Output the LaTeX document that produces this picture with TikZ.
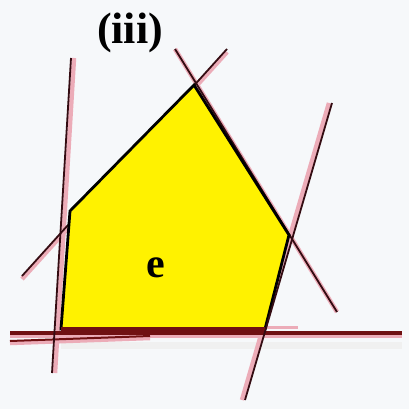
\documentclass[tikz,border=0pt]{standalone}
\usepackage{fontspec}
\setmainfont{Liberation Serif}
\usetikzlibrary{calc}
\definecolor{cutdark}{RGB}{52,12,18}
\definecolor{cutpink}{RGB}{236,172,184}
\definecolor{floorred}{RGB}{112,16,18}
\definecolor{paper}{RGB}{246,248,250}
\tikzset{
  cutshade/.style ={draw=cutpink, line width=4.5pt},
  cutline/.style  ={draw=cutdark, line width=1.8pt},
  floorline/.style={draw=floorred, line width=3.8pt},
  faceedge/.style ={draw=black, line width=2.8pt, line join=miter, fill=yellow},
  lbl/.style      ={font=\fontsize{42}{42}\selectfont\bfseries, inner sep=0pt},
}

\begin{document}
\begin{tikzpicture}[x=1pt,y=-1pt]
  \fill[paper] (0,0) rectangle (409,409);
  \useasboundingbox (0,0) rectangle (409,409);
  % corners of the face
  \coordinate (vt)  at (194,85);
  \coordinate (vr)  at (289,235);
  \coordinate (vbr) at (265,329);
  \coordinate (vbl) at (61,329);
  \coordinate (vl)  at (70,211);
  % ends of the cutting lines
  \coordinate (l1a) at (71,58);   \coordinate (l1b) at (52,373);
  \coordinate (l2a) at (22,276);  \coordinate (l2b) at (227,49);
  \coordinate (l3a) at (175,49);  \coordinate (l3b) at (337,312);
  \coordinate (l4a) at (332,103); \coordinate (l4b) at (245,400);
  \coordinate (l5a) at (10,333);  \coordinate (l5b) at (402,333);
  \coordinate (l6a) at (10,341);  \coordinate (l6b) at (150,336);
  % shadows
  \draw[gray!12, line width=7pt] ($(vbl)+(0,16)$) -- ($(l5b)+(0,12)$);
  \draw[cutshade] ([xshift=3pt]l1a) -- ([xshift=3pt]l1b);
  \draw[cutshade] ([yshift=-3pt]l2a) -- ([yshift=-3pt]l2b);
  \draw[cutshade] (l3a) -- (l3b);
  \draw[cutshade] ([xshift=-3pt]l4a) -- ([xshift=-3pt]l4b);
  \draw[cutshade] ([yshift=-3pt]l5a) -- ([yshift=-3pt]l5b);
  \draw[cutshade] ([yshift=-2pt]l6a) -- ([yshift=-2pt]l6b);
  \draw[cutshade, line width=3pt] ([yshift=2pt]vbr) -- ++(33,0);
  % lines behind the face
  \draw[cutline] (l2a) -- (l2b);
  \draw[cutline] (l3a) -- (l3b);
  \draw[floorline] (l5a) -- (l5b);
  \draw[floorline, line width=2pt] (l6a) -- (l6b);
  % the face
  \filldraw[faceedge] (vt) -- (vr) -- (vbr) -- (vbl) -- (vl) -- cycle;
  \draw[floorred, line width=5pt] (vbl) -- (vbr);
  \draw[cutline] (l1a) -- (l1b);
  \draw[cutline] (l4a) -- (l4b);
  % labels
  \node[lbl] (face) at (156,268) {e};
  \node[lbl, font=\fontsize{44}{44}\selectfont\bfseries] (title) at (130,33) {(iii)};
\end{tikzpicture}
\end{document}
